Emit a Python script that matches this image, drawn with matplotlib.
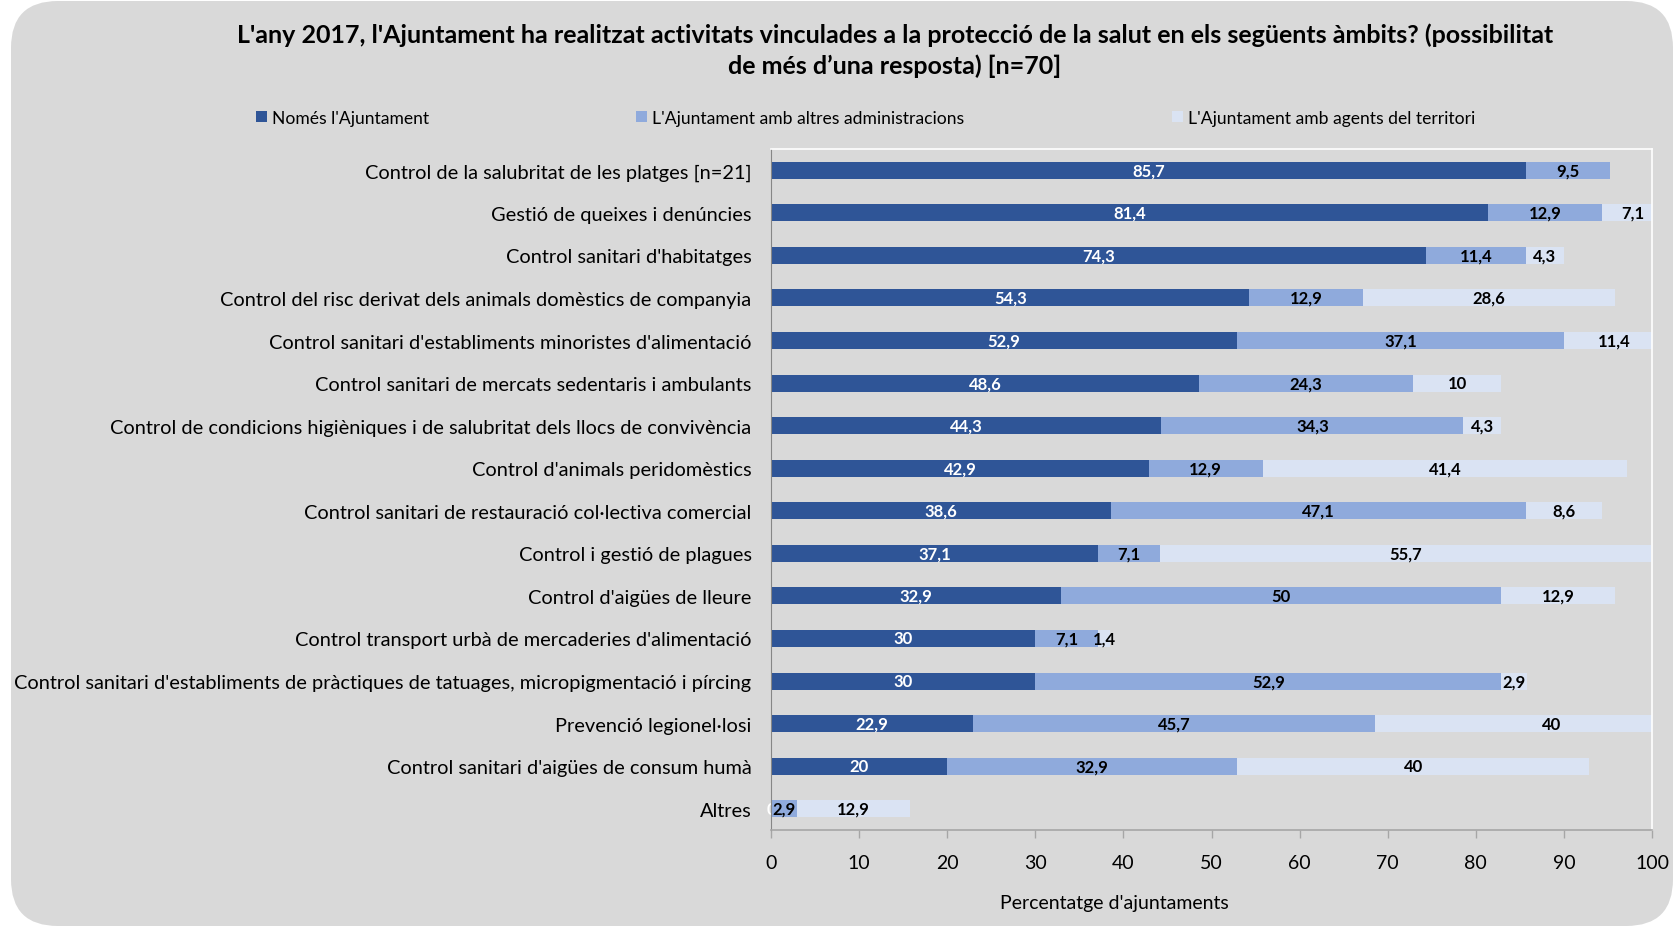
import matplotlib
matplotlib.use("Agg")
import matplotlib.pyplot as plt
from matplotlib.patches import FancyBboxPatch, Patch
import numpy as np

plt.rcParams['font.family'] = ['Lato', 'DejaVu Sans']

categories = [
    "Control de la salubritat de les platges [n=21]",
    "Gestió de queixes i denúncies",
    "Control sanitari d'habitatges",
    "Control del risc derivat dels animals domèstics de companyia",
    "Control sanitari d'establiments minoristes d'alimentació",
    "Control sanitari de mercats sedentaris i ambulants",
    "Control de condicions higièniques i de salubritat dels llocs de convivència",
    "Control d'animals peridomèstics",
    "Control sanitari de restauració col·lectiva comercial",
    "Control i gestió de plagues",
    "Control d'aigües de lleure",
    "Control transport urbà de mercaderies d'alimentació",
    "Control sanitari d'establiments de pràctiques de tatuages, micropigmentació i pírcing",
    "Prevenció legionel·losi",
    "Control sanitari d'aigües de consum humà",
    "Altres",
]
nomes = [85.7, 81.4, 74.3, 54.3, 52.9, 48.6, 44.3, 42.9, 38.6, 37.1, 32.9, 30, 30, 22.9, 20, 0]
altres_adm = [9.5, 12.9, 11.4, 12.9, 37.1, 24.3, 34.3, 12.9, 47.1, 7.1, 50, 7.1, 52.9, 45.7, 32.9, 2.9]
agents = [None, 7.1, 4.3, 28.6, 11.4, 10, 4.3, 41.4, 8.6, 55.7, 12.9, 1.4, 2.9, 40, 40, 12.9]

series_names = ["Només l'Ajuntament", "L'Ajuntament amb altres administracions",
                "L'Ajuntament amb agents del territori"]
colors = ["#2F5597", "#8FAADC", "#DAE3F3"]
label_colors = ["white", "black", "black"]

title = ("L'any 2017, l'Ajuntament ha realitzat activitats vinculades a la protecció de la salut en els següents àmbits? (possibilitat\n"
         "de més d\u2019una resposta) [n=70]")

W, H = 1675, 929
fig = plt.figure(figsize=(W / 100, H / 100), dpi=100)
fig.patch.set_facecolor("white")

bg = FancyBboxPatch((11 / W, 2 / H), (1673 - 11) / W, (H - 4) / H,
                    boxstyle="round,pad=0,rounding_size=0.028",
                    transform=fig.transFigure, facecolor="#D9D9D9", edgecolor="none",
                    mutation_aspect=W / H, zorder=-10)
fig.patches.append(bg)

ax = fig.add_axes([771 / W, (H - 831) / H, 881 / W, 681 / H])
ax.set_facecolor("none")

y = np.arange(len(categories))
left = np.zeros(len(categories))
all_series = [nomes, altres_adm, agents]
for s, vals in enumerate(all_series):
    v = np.array([np.nan if x is None else x for x in vals], dtype=float)
    vv = np.nan_to_num(v)
    ax.barh(y, vv, left=left, height=0.4, color=colors[s], zorder=2)
    for i in range(len(categories)):
        if np.isnan(v[i]):
            continue
        txt = f"{v[i]:g}".replace(".", ",")
        ax.text(left[i] + vv[i] / 2, y[i], txt, ha="center", va="center",
                color=label_colors[s], fontsize=12, fontweight="bold",
                zorder=1.5 if vv[i] == 0 else 3, clip_on=False)
    left = left + vv

ax.set_ylim(len(categories) - 0.5, -0.5)
ax.set_xlim(0, 100)
ax.set_yticks(y)
ax.set_yticklabels(categories, fontsize=14.4)
ax.tick_params(axis="y", length=0, pad=14)
ax.set_xticks(np.arange(0, 101, 10))
ax.tick_params(axis="x", direction="out", length=6, width=1, color="#A6A6A6",
               labelsize=14, pad=11)
ax.set_xlabel("Percentatge d'ajuntaments", fontsize=14)
ax.xaxis.set_label_coords((1114 - 771) / 881, -(895 - 831) / 681)

for side in ["top", "right"]:
    ax.spines[side].set_color("white")
    ax.spines[side].set_linewidth(1.2)
ax.spines["left"].set_color("#868686")
ax.spines["bottom"].set_color("#A6A6A6")
ax.spines["bottom"].set_linewidth(1.2)

fig.text(895 / W, 1 - 51 / H, title, ha="center", va="center", fontsize=18,
         fontweight="bold", linespacing=1.4)

legend_x = [256, 636, 1172]
for name, c, lx in zip(series_names, colors, legend_x):
    fig.legend(handles=[Patch(facecolor=c, edgecolor="none", label=name)],
               loc="center left", bbox_to_anchor=(lx / W, 1 - 119 / H),
               frameon=False, fontsize=12.6, handlelength=0.6, handleheight=0.6,
               handletextpad=0.3, borderpad=0, borderaxespad=0)

fig.savefig("out.png", dpi=100, facecolor=fig.get_facecolor())
